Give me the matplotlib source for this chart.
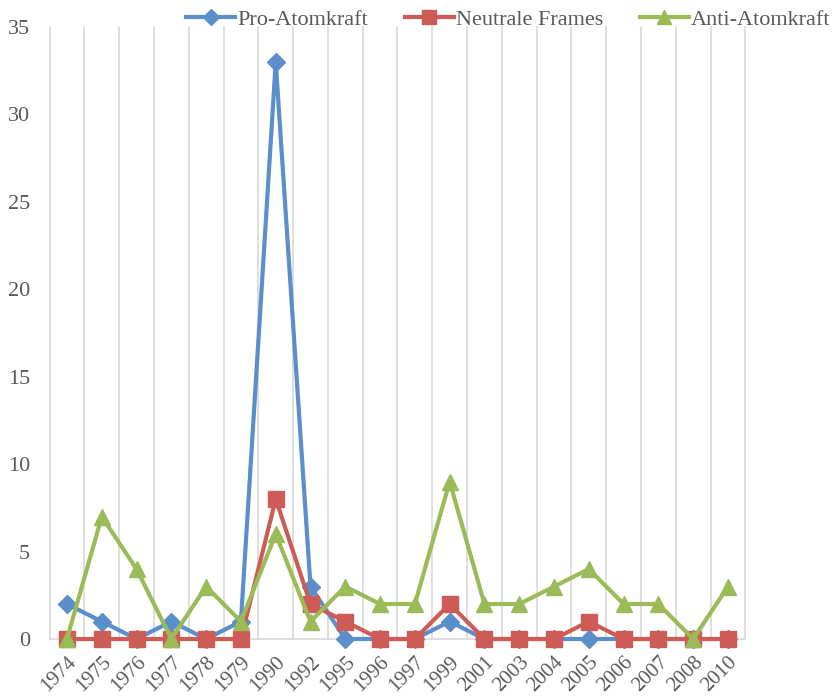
import matplotlib.pyplot as plt
import numpy as np

years = ["1974", "1975", "1976", "1977", "1978", "1979", "1990", "1992", "1995", "1996",
         "1997", "1999", "2001", "2003", "2004", "2005", "2006", "2007", "2008", "2010"]
pro = [2, 1, 0, 1, 0, 1, 33, 3, 0, 0, 0, 1, 0, 0, 0, 0, 0, 0, 0, 0]
neutral = [0, 0, 0, 0, 0, 0, 8, 2, 1, 0, 0, 2, 0, 0, 0, 1, 0, 0, 0, 0]
anti = [0, 7, 4, 0, 3, 1, 6, 1, 3, 2, 2, 9, 2, 2, 3, 4, 2, 2, 0, 3]

plt.rcParams["font.family"] = ["Liberation Serif", "DejaVu Serif"]
TXT = "#595959"

fig = plt.figure(figsize=(8.39, 6.96), dpi=100)
ax = fig.add_axes([0.0591, 0.0819, 0.8293, 0.8793])

x = np.arange(len(years))

# vertical gridlines between categories
for b in np.arange(-0.5, len(years), 1.0):
    ax.axvline(b, color="#D9D9D9", linewidth=1.2, zorder=0)

ax.plot(x, pro, color="#5B8FCB", linewidth=3, marker="D", markersize=9,
        label="Pro-Atomkraft", zorder=3)
ax.plot(x, neutral, color="#CD5C57", linewidth=3, marker="s", markersize=11,
        label="Neutrale Frames", zorder=4)
ax.plot(x, anti, color="#9BBB59", linewidth=3, marker="^", markersize=11,
        label="Anti-Atomkraft", zorder=5)

ax.set_xlim(-0.5, len(years) - 0.5)
ax.set_ylim(0, 35)
ax.set_yticks(range(0, 36, 5))
ax.set_xticks(x)
ax.set_xticklabels(years, rotation=45, ha="right", rotation_mode="anchor")
ax.tick_params(axis="both", length=0, labelcolor=TXT)
ax.tick_params(axis="y", pad=14, labelsize=16)
ax.tick_params(axis="x", pad=10, labelsize=15)

for s in ["top", "right", "left"]:
    ax.spines[s].set_visible(False)
ax.spines["bottom"].set_color("#D9D9D9")
ax.spines["bottom"].set_linewidth(1.2)
ax.spines["bottom"].set_zorder(1)

leg = fig.legend(loc="upper left", bbox_to_anchor=(0.198, 1.015), ncol=3, frameon=False,
                 fontsize=16, handlelength=2.2, columnspacing=1.65, handletextpad=0.1,
                 markerscale=0.9)
for t in leg.get_texts():
    t.set_color(TXT)

for c in ax.get_lines():
    c.set_clip_on(False)

fig.savefig("out.png", dpi=100)
